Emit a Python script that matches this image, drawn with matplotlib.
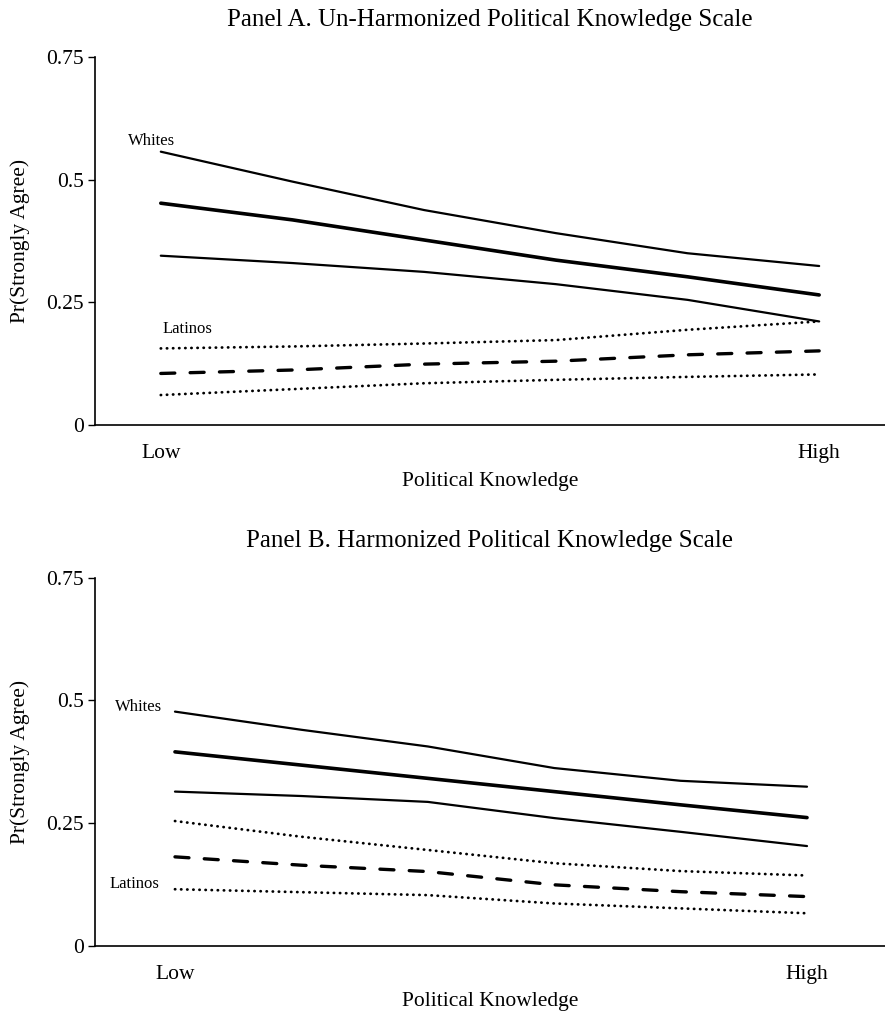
import matplotlib
matplotlib.use("Agg")
import matplotlib.pyplot as plt

plt.rcParams['font.family'] = ['Liberation Serif', 'DejaVu Serif']

# knowledge levels (Low .. High)
levels = [0, 1, 2, 3, 4, 5]
tick_labels = ['Low', 'High']

# Panel A: un-harmonized scale
a_white_hi = [0.557, 0.496, 0.438, 0.391, 0.350, 0.324]
a_white = [0.452, 0.418, 0.377, 0.336, 0.302, 0.265]
a_white_lo = [0.345, 0.330, 0.312, 0.287, 0.255, 0.211]
a_latino_hi = [0.156, 0.160, 0.166, 0.173, 0.194, 0.211]
a_latino = [0.105, 0.112, 0.124, 0.130, 0.143, 0.151]
a_latino_lo = [0.061, 0.073, 0.085, 0.092, 0.098, 0.103]

# Panel B: harmonized scale
b_white_hi = [0.477, 0.440, 0.406, 0.362, 0.336, 0.324]
b_white = [0.395, 0.368, 0.341, 0.314, 0.287, 0.261]
b_white_lo = [0.314, 0.305, 0.293, 0.260, 0.232, 0.203]
b_latino_hi = [0.254, 0.222, 0.195, 0.168, 0.152, 0.143]
b_latino = [0.181, 0.164, 0.151, 0.124, 0.110, 0.100]
b_latino_lo = [0.115, 0.109, 0.103, 0.086, 0.076, 0.066]

fig = plt.figure(figsize=(8.85, 10.14), dpi=100)
axA = fig.add_axes([0.1073, 0.5809, 0.8927, 0.3629])
axB = fig.add_axes([0.1073, 0.0674, 0.8927, 0.3629])


def draw(ax, hi, mid, lo, lhi, lmid, llo, title, xlim):
    ax.plot(levels, hi, color='black', lw=1.6, solid_capstyle='round')
    ax.plot(levels, mid, color='black', lw=2.6, solid_capstyle='round')
    ax.plot(levels, lo, color='black', lw=1.6, solid_capstyle='round')
    ax.plot(levels, lhi, color='black', lw=2.0, dashes=(0.1, 2.1), dash_capstyle='round')
    ax.plot(levels, lmid, color='black', lw=2.4, dashes=(4.2, 4.6), dash_capstyle='round')
    ax.plot(levels, llo, color='black', lw=2.0, dashes=(0.1, 2.1), dash_capstyle='round')
    ax.set_xlim(*xlim)
    ax.set_ylim(0, 0.75)
    ax.set_yticks([0, 0.25, 0.5, 0.75])
    ax.set_yticklabels(['0', '0.25', '0.5', '0.75'])
    ax.set_xticks([levels[0], levels[-1]])
    ax.set_xticklabels(tick_labels)
    ax.tick_params(axis='x', length=0, labelsize=15.5, pad=14)
    ax.tick_params(axis='y', length=5, width=1, labelsize=15.5, pad=3)
    for s in ['top', 'right']:
        ax.spines[s].set_visible(False)
    ax.spines['left'].set_linewidth(1.2)
    ax.spines['bottom'].set_linewidth(1.2)
    ax.set_ylabel('Pr(Strongly Agree)', fontsize=15.5, labelpad=12)
    ax.set_xlabel('Political Knowledge', fontsize=15.5, labelpad=6)
    ax.set_title(title, fontsize=18, pad=22)


draw(axA, a_white_hi, a_white, a_white_lo, a_latino_hi, a_latino, a_latino_lo,
     'Panel A. Un-Harmonized Political Knowledge Scale', (-0.5, 5.5))
draw(axB, b_white_hi, b_white, b_white_lo, b_latino_hi, b_latino, b_latino_lo,
     'Panel B. Harmonized Political Knowledge Scale', (-0.633, 5.617))

axA.text(-0.07, 0.579, 'Whites', fontsize=12, ha='center', va='center')
axA.text(0.015, 0.196, 'Latinos', fontsize=12, ha='left', va='center')
axB.text(-0.10, 0.487, 'Whites', fontsize=12, ha='right', va='center')
axB.text(-0.12, 0.126, 'Latinos', fontsize=12, ha='right', va='center')

fig.savefig('out.png', dpi=100)
